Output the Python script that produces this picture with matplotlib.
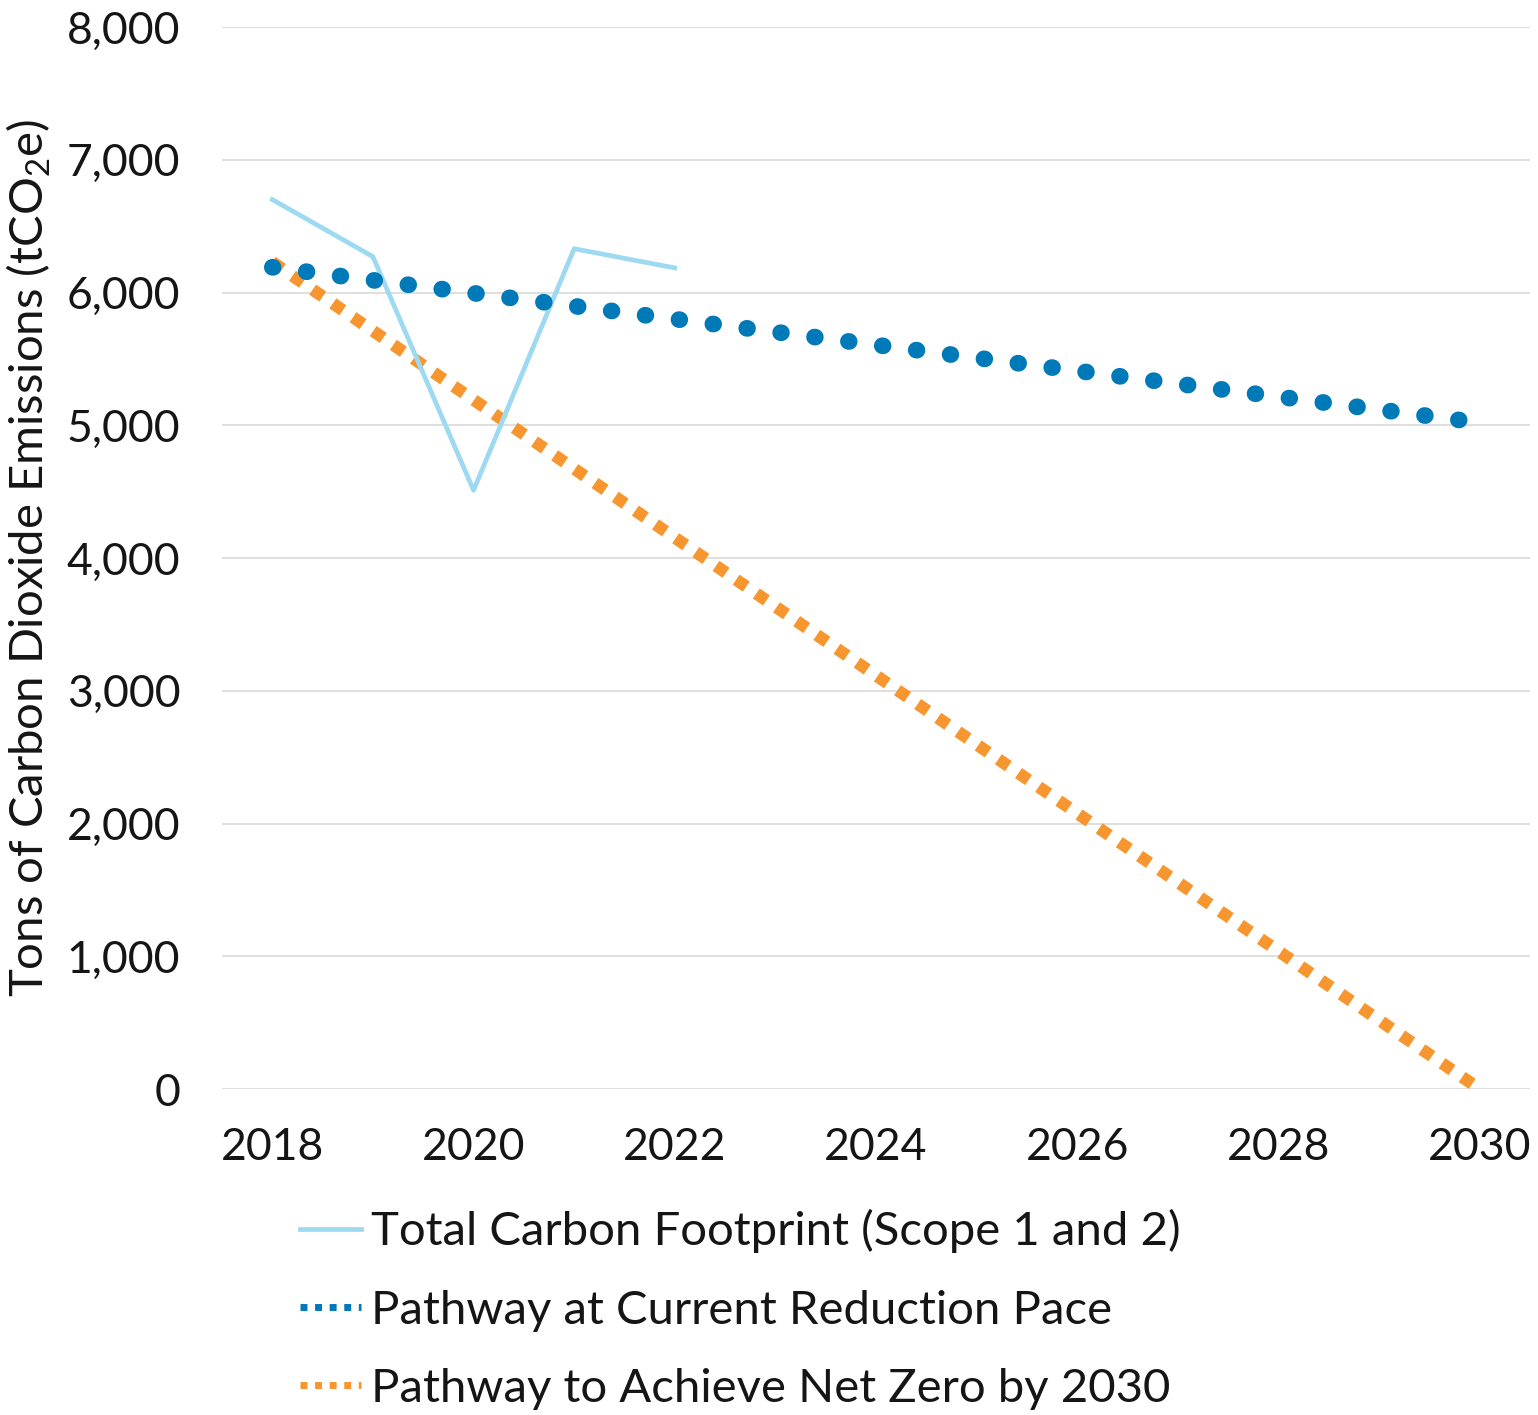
import matplotlib
matplotlib.use('Agg')
import matplotlib.pyplot as plt
from matplotlib.lines import Line2D
from matplotlib.ticker import FuncFormatter

plt.rcParams['font.family'] = ['Lato', 'DejaVu Sans']
plt.rcParams['mathtext.fontset'] = 'custom'
plt.rcParams['mathtext.rm'] = 'Lato'
plt.rcParams['mathtext.it'] = 'Lato'

# data
footprint_years = [2018, 2019, 2020, 2021, 2022]
footprint_values = [6700, 6270, 4510, 6330, 6185]

current_pace_years = [2018, 2030]
current_pace_values = [6190, 5020]

net_zero_years = [2018, 2030]
net_zero_values = [6230, 0]

labels = ['Total Carbon Footprint (Scope 1 and 2)',
          'Pathway at Current Reduction Pace',
          'Pathway to Achieve Net Zero by 2030']

c_foot = '#9DDAF2'
c_pace = '#0079B9'
c_zero = '#F7962F'
c_text = '#151515'

fig = plt.figure(figsize=(15.38, 14.15), dpi=100)
ax = fig.add_axes([222/1538, 1 - 1089/1415, (1530 - 222)/1538, (1089 - 27)/1415])

ax.plot(footprint_years, footprint_values, color=c_foot, lw=3.4, zorder=3)
ax.plot(current_pace_years, current_pace_values, color=c_pace, lw=12,
        dashes=(0.05, 2.0), dash_capstyle='round', zorder=4)
ax.plot(net_zero_years, net_zero_values, color=c_zero, lw=8.8,
        dashes=(1, 1), dash_capstyle='butt', zorder=2)

ax.set_xlim(2017.5, 2030.5)
ax.set_ylim(0, 8000)
ax.set_xticks(range(2018, 2031, 2))
ax.set_yticks(range(0, 8001, 1000))
ax.yaxis.set_major_formatter(FuncFormatter(lambda v, p: f'{int(v):,}'))
ax.grid(axis='y', color='#DCDCDC', lw=1.3)
ax.set_axisbelow(True)
for s in ax.spines.values():
    s.set_visible(False)
ax.tick_params(axis='both', length=0, labelsize=32, colors=c_text)
ax.tick_params(axis='y', pad=30)
ax.tick_params(axis='x', pad=27)

ax.set_ylabel(r'Tons of Carbon Dioxide Emissions (tCO$_2$e)', fontsize=34, color=c_text)
ax.yaxis.set_label_coords(-169/1308, 0.5)

handles = [Line2D([], [], color=c_foot, lw=3.4),
           Line2D([], [], color=c_pace, lw=5, dashes=(1, 1.1)),
           Line2D([], [], color=c_zero, lw=5, dashes=(1, 1.1))]
fig.legend(handles, labels, loc='upper left', bbox_to_anchor=(300/1538, 1 - 1209/1415),
           frameon=False, fontsize=34, handlelength=1.3, handletextpad=0.2,
           borderpad=0, borderaxespad=0, labelspacing=0.77, labelcolor=c_text)

fig.savefig('out.png', dpi=100, facecolor='white')
